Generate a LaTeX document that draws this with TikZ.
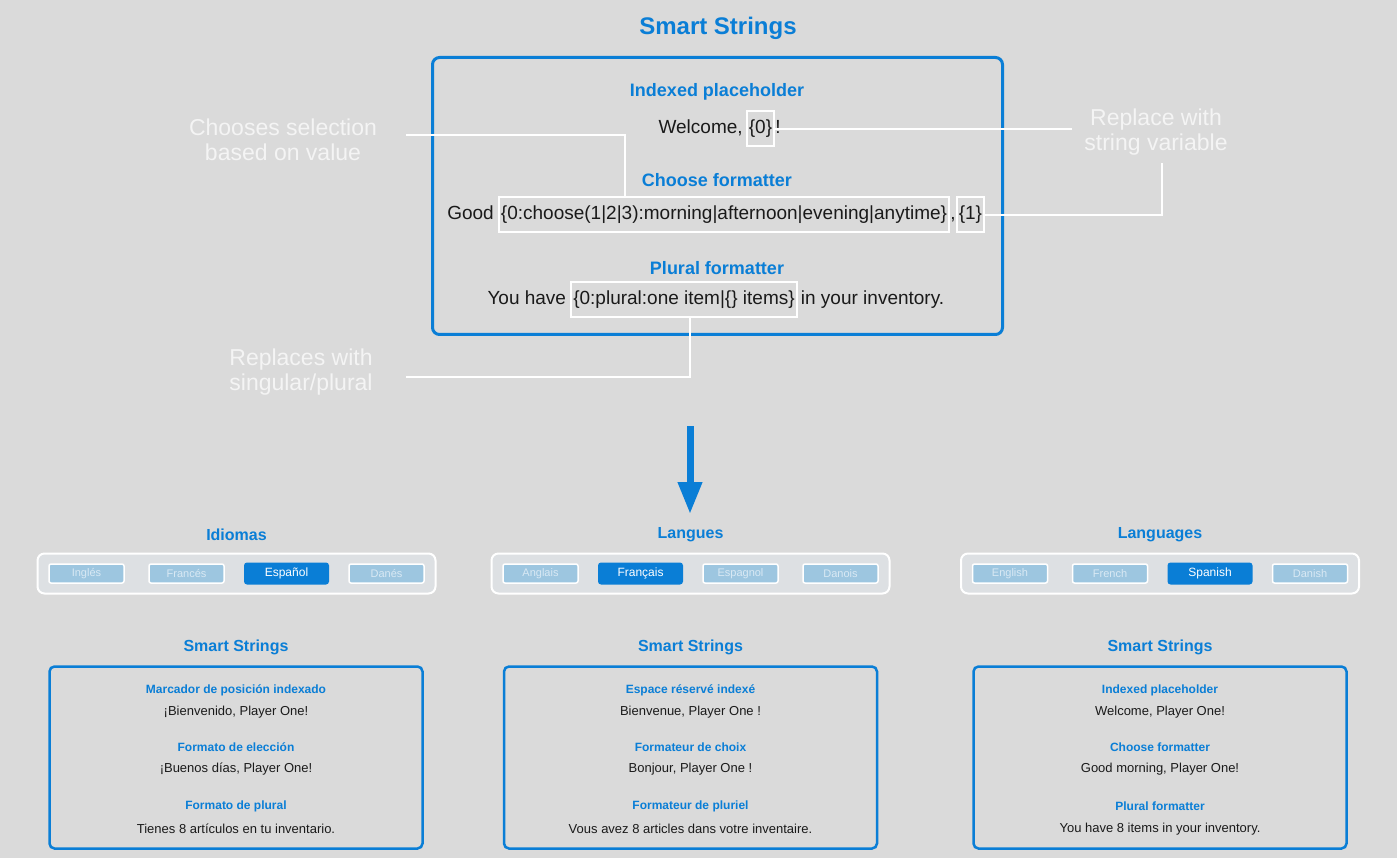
\documentclass[tikz,border=0pt]{standalone}
\usepackage{fontspec}
\setmainfont{Liberation Sans}
\usetikzlibrary{arrows.meta}
\definecolor{bgcol}{HTML}{DADADA}
\definecolor{ublue}{HTML}{0A7ED6}
\definecolor{txtcol}{HTML}{1A1A1A}
\definecolor{btnfill}{HTML}{9DC6E0}
\definecolor{btntxt}{HTML}{D9E9F4}
\definecolor{panelfill}{HTML}{DDE0E3}
\definecolor{notecol}{HTML}{F4F4F4}

\newcommand\langbar[8]{%
  \node[ttlsmall] (#1t) at (#2,535) {#3};
  \node[barbox] (#1bar) at (#2,573.5) {};
  \foreach \i/\lbl in {1/{#4},2/{#5},3/{#6},4/{#7}} {
    \ifnum\i=#8
      \node[selbtn] (#1b\i) at (#2-250+100*\i,573.5) {\lbl};
    \else
      \node[btn] (#1b\i) at (#2-250+100*\i,573.5) {\lbl};
    \fi
  }
}
\newcommand\smartbox[8]{%
  \node[ttlsmall] (#1s) at (#2,647) {Smart Strings};
  \node[sbox] (#1box) at (#2,757.5) {};
  \node[shd] (#1h1) at (#2,690) {#3};
  \node[sbd] (#1t1) at (#2,712) {#4};
  \node[shd] (#1h2) at (#2,747) {#5};
  \node[sbd] (#1t2) at (#2,769.5) {#6};
  \node[shd] (#1h3) at (#2,806) {#7};
  \node[sbd] (#1t3) at (#2,829) {#8};
}

\begin{document}
\begin{tikzpicture}[x=1pt,y=-1pt,
  ttl/.style={text=ublue,font=\fontsize{24}{28}\selectfont\bfseries,inner sep=0pt},
  ttlsmall/.style={text=ublue,font=\fontsize{16}{20}\selectfont\bfseries,inner sep=0pt},
  hdg/.style={text=ublue,font=\fontsize{18}{22}\selectfont\bfseries,inner sep=0pt},
  bdy/.style={text=txtcol,font=\fontsize{19}{23}\selectfont},
  piece/.style={bdy,inner sep=0pt},
  hl/.style={bdy,draw=white,line width=2pt,inner xsep=2pt,inner ysep=0pt,minimum height=35pt},
  notetxt/.style={text=notecol,font=\fontsize{23}{25}\selectfont,align=center,inner sep=0pt},
  link/.style={draw=white,line width=2.5pt},
  mainbox/.style={draw=ublue,line width=3pt,rounded corners=7pt,minimum width=570pt,minimum height=277pt},
  barbox/.style={draw=white,line width=2pt,fill=panelfill,rounded corners=7pt,minimum width=398pt,minimum height=40pt},
  btn/.style={draw=white,line width=1.5pt,fill=btnfill,text=btntxt,rounded corners=2pt,minimum width=75pt,minimum height=19pt,inner sep=0pt,font=\fontsize{11}{13}\selectfont},
  selbtn/.style={fill=ublue,text=white,rounded corners=3pt,minimum width=85pt,minimum height=22pt,inner sep=0pt,font=\fontsize{12}{14}\selectfont},
  sbox/.style={draw=ublue,line width=2.5pt,rounded corners=5pt,minimum width=373pt,minimum height=182pt},
  shd/.style={text=ublue,font=\fontsize{12}{15}\selectfont\bfseries,inner sep=0pt},
  sbd/.style={text=txtcol,font=\fontsize{13}{15}\selectfont,inner sep=0pt},
]
\useasboundingbox[fill=bgcol] (0,0) rectangle (1397,858);

% top title and main box
\node[ttl] (title) at (718,28) {Smart Strings};
\node[mainbox] (main) at (717.5,196) {};

\node[hdg] (h1) at (717,92) {Indexed placeholder};
\node[hl] (z0) at (760.5,129) {\{0\}};
\node[piece,anchor=base east] (w1) at (z0.base west) {Welcome,\kern3pt};
\node[piece,anchor=base west] (w2) at (z0.base east) {!};

\node[hdg] (h2) at (717,180) {Choose formatter};
\node[hl] (b1) at (724,215) {\{0:choose(1|2|3):morning|afternoon|evening|anytime\}};
\node[piece,anchor=base east] (g1) at (b1.base west) {Good\kern4pt};
\node[piece,anchor=base west] (g2) at (b1.base east) {,};
\node[hl,anchor=west] (b2) at (g2.east |- b1.west) {\{1\}};

\node[hdg] (h3) at (717,268) {Plural formatter};
\node[hl] (p1) at (684,300) {\{0:plural:one item|\{\} items\}};
\node[piece,anchor=base east] (y1) at (p1.base west) {You have\kern4pt};
\node[piece,anchor=base west] (y2) at (p1.base east) {\kern3pt in your inventory.};

% annotations
\node[notetxt] (nL) at (283,139.5) {Chooses selection\\based on value};
\node[notetxt] (nR) at (1156,132.5) {Replace with\\string variable};
\node[notetxt] (nB) at (301,372) {Replaces with\\singular/plural};

\coordinate (cL) at (406,135);
\coordinate (cLx) at (625,135);
\coordinate (cR) at (1072,0);
\coordinate (cRv) at (1162,163);
\coordinate (cB) at (406,377);
\coordinate (cBx) at (690,0);

\draw[link] (cL) -- (cLx) -- (cLx |- b1.north);
\draw[link] (z0.east) -- (cR |- z0.east);
\draw[link] (b2.east) -| (cRv);
\draw[link] (cBx |- p1.south) |- (cB);

% arrow
\coordinate (arrTop) at (690,426);
\coordinate (arrBot) at (690,514);
\draw[ublue,line width=7pt,-{Triangle[width=23pt,length=32pt]}] (arrTop) -- (arrBot);

% language panels
\langbar{es}{236.5}{Idiomas}{Inglés}{Francés}{Español}{Danés}{3}
\langbar{fr}{690.5}{Langues}{Anglais}{Français}{Espagnol}{Danois}{2}
\langbar{en}{1160}{Languages}{English}{French}{Spanish}{Danish}{3}

\smartbox{ses}{236}{Marcador de posición indexado}{¡Bienvenido, Player One!}{Formato de elección}{¡Buenos días, Player One!}{Formato de plural}{Tienes 8 artículos en tu inventario.}
\smartbox{sfr}{690.5}{Espace réservé indexé}{Bienvenue, Player One !}{Formateur de choix}{Bonjour, Player One !}{Formateur de pluriel}{Vous avez 8 articles dans votre inventaire.}
\smartbox{sen}{1160}{Indexed placeholder}{Welcome, Player One!}{Choose formatter}{Good morning, Player One!}{Plural formatter}{You have 8 items in your inventory.}
\end{tikzpicture}
\end{document}
